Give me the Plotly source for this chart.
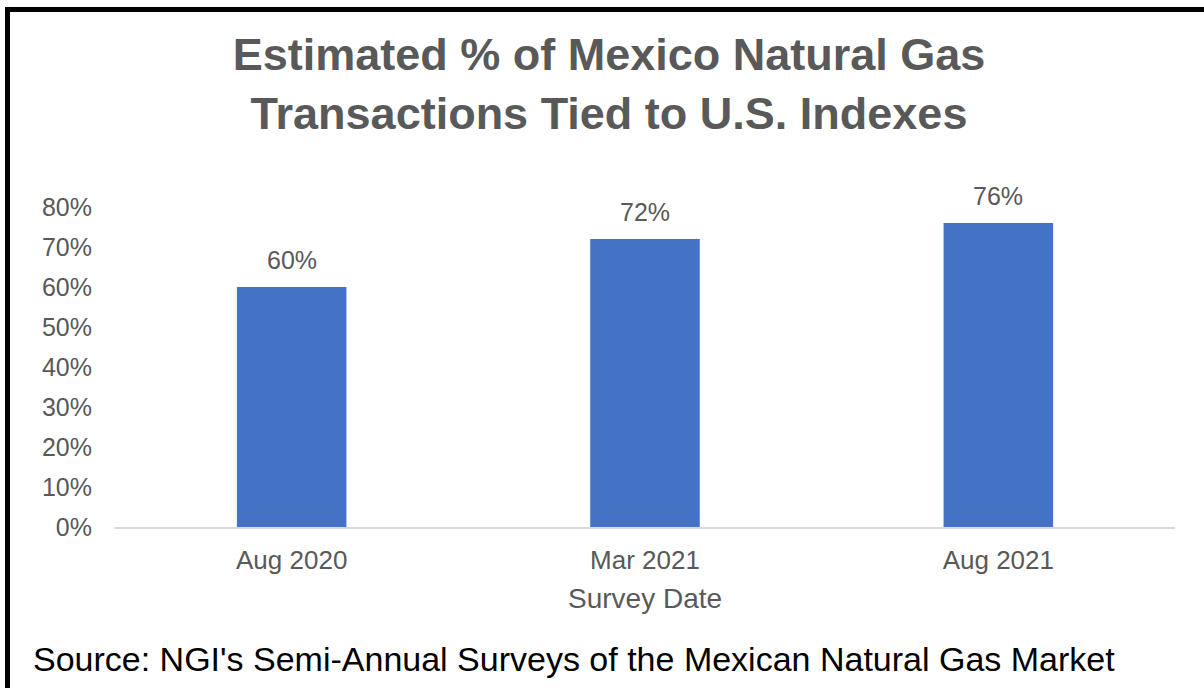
import plotly.graph_objects as go

categories = ["Aug 2020", "Mar 2021", "Aug 2021"]
values = [60, 72, 76]
tick_vals = [0, 10, 20, 30, 40, 50, 60, 70, 80]
tick_text = ["0%", "10%", "20%", "30%", "40%", "50%", "60%", "70%", "80%"]

W, H = 1204, 688
ML, MR, MT, MB = 115, 29, 207, 161
PW, PH = W - ML - MR, H - MT - MB

def px_x(x):
    return (x - ML) / PW

def px_y(y):
    return (H - MB - y) / PH

FONT = "Arial, Liberation Sans, sans-serif"
GRAY = "#595959"

fig = go.Figure()
fig.add_trace(go.Bar(
    x=categories, y=values,
    marker=dict(color="#4472C4", line=dict(width=0)),
    hoverinfo="skip",
))

annotations = []
for c, v in zip(categories, values):
    annotations.append(dict(
        x=c, y=v, xref="x", yref="y", text=f"{v}%", showarrow=False,
        yanchor="bottom", yshift=11,
        font=dict(family=FONT, size=25, color=GRAY),
    ))

annotations.append(dict(
    x=px_x(645), y=px_y(598.5), xref="paper", yref="paper",
    text="Survey Date", showarrow=False, xanchor="center", yanchor="middle",
    font=dict(family=FONT, size=28, color=GRAY),
))
annotations.append(dict(
    x=px_x(31), y=px_y(659), xref="paper", yref="paper",
    text="Source: NGI's Semi-Annual Surveys of the Mexican Natural Gas Market",
    showarrow=False, xanchor="left", yanchor="middle",
    font=dict(family=FONT, size=34, color="#000000"),
))

fig.update_layout(
    width=W, height=H,
    margin=dict(l=ML, r=MR, t=MT, b=MB, pad=0),
    paper_bgcolor="white", plot_bgcolor="white",
    showlegend=False,
    bargap=0.69,
    title=dict(
        text="Estimated % of Mexico Natural Gas<br>Transactions Tied to U.S. Indexes",
        x=609 / W, xanchor="center", xref="container",
        y=1 - 70 / H, yanchor="middle", yref="container",
        font=dict(family=FONT, size=45, color=GRAY, weight="bold"),
    ),
    xaxis=dict(
        showgrid=False, showline=True, linecolor="#d9d9d9", linewidth=2,
        ticks="", zeroline=False,
        tickfont=dict(family=FONT, size=26, color=GRAY),
        ticklabelstandoff=9,
    ),
    yaxis=dict(
        range=[0, 80], tickvals=tick_vals, ticktext=tick_text,
        showgrid=False, showline=False, zeroline=False, ticks="",
        tickfont=dict(family=FONT, size=25, color=GRAY),
        ticklabelstandoff=22,
    ),
    annotations=annotations,
    shapes=[dict(
        type="rect", xref="paper", yref="paper",
        x0=px_x(7.5), x1=px_x(1230), y0=px_y(720), y1=px_y(9.5),
        line=dict(color="black", width=5), fillcolor="rgba(0,0,0,0)",
        layer="above",
    )],
)

fig.write_html("out.html")
